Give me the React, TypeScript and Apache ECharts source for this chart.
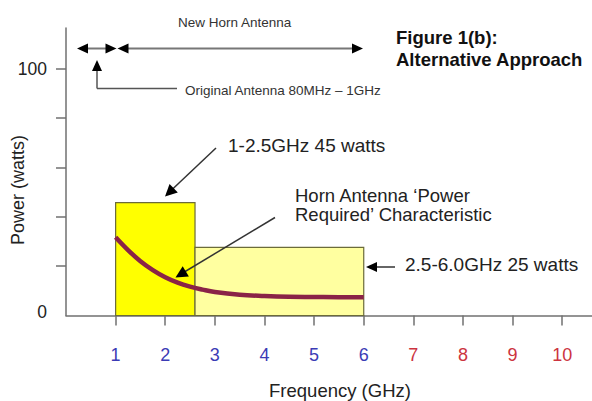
import React, { useEffect, useRef } from "react";
import * as echarts from "echarts";

const freqTicks = [1, 2, 3, 4, 5, 6, 7, 8, 9, 10];
const powerTicks = [20, 40, 60, 80, 100];
const powerLabels = [0, 100];
const bandStart = [1, 2.6];
const bandEnd = [2.6, 6];
const bandPower = [45.7, 27.6];
const bandColors = ["#ffff00", "#ffffa0"];
const curveFreq = [1, 1.25, 1.5, 1.75, 2, 2.25, 2.5, 2.75, 3, 3.5, 4, 4.5, 5, 5.5, 6];
const curvePower = [31.7, 26.5, 22, 18.4, 15.5, 13.3, 11.7, 10.5, 9.5, 8.4, 7.9, 7.6, 7.5, 7.4, 7.4];

const FONT = "'Liberation Sans', Arial, sans-serif";

function head(tx: number, ty: number, sx: number, sy: number, L = 11, W = 5, color = "#000") {
  const dx = tx - sx;
  const dy = ty - sy;
  const d = Math.sqrt(dx * dx + dy * dy);
  const ux = dx / d;
  const uy = dy / d;
  const bx = tx - ux * L;
  const by = ty - uy * L;
  return {
    type: "polygon",
    z: 100,
    shape: {
      points: [
        [tx, ty],
        [bx - uy * W, by + ux * W],
        [bx + uy * W, by - ux * W],
      ],
    },
    style: { fill: color },
    silent: true,
  };
}

function seg(x1: number, y1: number, x2: number, y2: number, color = "#333", w = 1.5) {
  return {
    type: "line",
    z: 100,
    shape: { x1, y1, x2, y2 },
    style: { stroke: color, lineWidth: w },
    silent: true,
  };
}

function txt(x: number, y: number, text: string, size: number, opts: any = {}) {
  return {
    type: "text",
    z: 100,
    x,
    y,
    rotation: opts.rotation || 0,
    style: {
      text,
      fontSize: size,
      fontFamily: FONT,
      fontWeight: opts.bold ? "bold" : "normal",
      fill: opts.color || "#222",
      align: opts.align || "left",
      verticalAlign: "middle",
    },
    silent: true,
  };
}

export default function App() {
  const ref = useRef<HTMLDivElement>(null);
  useEffect(() => {
    if (!ref.current) return;
    const chart = echarts.init(ref.current, null, { renderer: "svg" });
    const bandData = bandStart.map((s, i) => [s, bandEnd[i], bandPower[i]]);
    const curveData = curveFreq.map((f, i) => [f, curvePower[i]]);
    const ay = 48.5;
    chart.setOption({
      animation: false,
      backgroundColor: "#fff",
      grid: { left: 66, top: 28, right: 0, bottom: 85.5 },
      xAxis: {
        type: "value",
        min: 0,
        max: 10.6,
        interval: 1,
        splitLine: { show: false },
        axisLine: { lineStyle: { color: "#707070", width: 1.5 } },
        axisTick: { length: 10, customValues: freqTicks, lineStyle: { color: "#707070", width: 1.5 } },
        axisLabel: {
          customValues: freqTicks,
          margin: 30,
          fontSize: 18,
          fontFamily: FONT,
          color: (v: any) => (Number(v) <= 6 ? "#3b3bb5" : "#cc3340"),
        },
      },
      yAxis: {
        type: "value",
        min: 0,
        max: 116.5,
        interval: 20,
        splitLine: { show: false },
        axisLine: { lineStyle: { color: "#707070", width: 1.5 } },
        axisTick: { length: 10, customValues: powerTicks, lineStyle: { color: "#707070", width: 1.5 } },
        axisLabel: {
          customValues: powerLabels,
          margin: 19,
          fontSize: 17.5,
          fontFamily: FONT,
          color: "#222",
          formatter: (v: any) => (Number(v) === 0 ? "{z|0}" : String(v)),
          rich: { z: { fontSize: 17.5, fontFamily: FONT, color: "#222", padding: [0, 0, 7, 0] } },
        },
      },
      series: [
        {
          type: "custom",
          data: bandData,
          encode: { x: [0, 1], y: 2 },
          z: 2,
          renderItem: (params: any, api: any) => {
            const p0 = api.coord([api.value(0), 0]);
            const p1 = api.coord([api.value(1), api.value(2)]);
            return {
              type: "rect",
              shape: { x: p0[0], y: p1[1], width: p1[0] - p0[0], height: p0[1] - p1[1] },
              style: { fill: bandColors[params.dataIndex], stroke: "#6b6b3a", lineWidth: 1.2 },
            };
          },
        },
        {
          type: "line",
          data: curveData,
          smooth: 0.4,
          showSymbol: false,
          z: 3,
          lineStyle: { color: "#8a2347", width: 4.5 },
        },
      ],
      graphic: [
        txt(178, 22, "New Horn Antenna", 13.5, { color: "#333" }),
        seg(82, ay, 110, ay, "#777", 2),
        head(77, ay, 90, ay),
        head(116.5, ay, 100, ay),
        seg(124, ay, 356, ay, "#777", 2),
        head(117.5, ay, 130, ay),
        head(363, ay, 350, ay),
        seg(97, 68, 97, 88.5, "#555", 1.5),
        seg(97, 88.5, 177, 88.5, "#555", 1.5),
        head(97, 60, 97, 75),
        txt(185, 90, "Original Antenna 80MHz \u2013 1GHz", 13.5, { color: "#333" }),
        txt(396, 37, "Figure 1(b):", 18.5, { bold: true, color: "#111" }),
        txt(396, 59, "Alternative Approach", 18.5, { bold: true, color: "#111" }),
        txt(228, 145, "1-2.5GHz 45 watts", 19),
        seg(216, 148, 170, 191.5, "#333", 1.5),
        head(165, 196.5, 216, 148, 12, 6),
        txt(295, 195, "Horn Antenna \u2018Power", 18.5),
        txt(295, 214, "Required\u2019 Characteristic", 18.5),
        seg(275, 217.5, 181, 274, "#333", 1.5),
        head(175.5, 277.5, 275, 217.5, 12, 6),
        seg(372, 267, 395, 267, "#333", 1.5),
        head(366, 267, 395, 267, 11, 5),
        txt(405, 264, "2.5-6.0GHz 25 watts", 19),
        txt(340, 390, "Frequency (GHz)", 18.5, { align: "center" }),
        txt(18, 190, "Power (watts)", 18, { align: "center", rotation: Math.PI / 2 }),
      ],
    });
    return () => chart.dispose();
  }, []);
  return <div ref={ref} style={{ width: 592, height: 401, position: "absolute", left: 0, top: 0 }} />;
}
